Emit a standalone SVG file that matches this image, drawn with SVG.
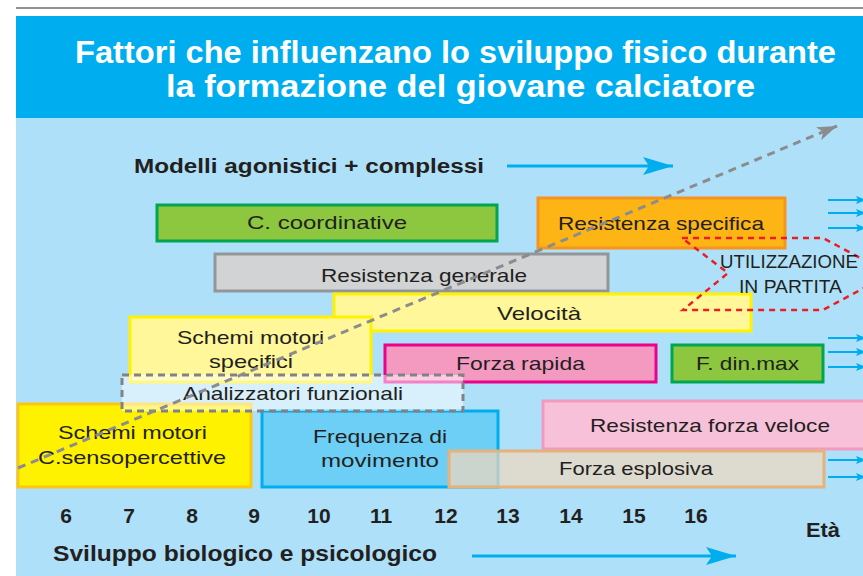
<svg xmlns="http://www.w3.org/2000/svg" width="863" height="576" viewBox="0 0 863 576">
<style>
text{font-family:"Liberation Sans",Arial,sans-serif;fill:#231F20}
.bx{font-size:19px}
.title{font-size:32px;font-weight:bold;fill:#FFFFFF}
.bold{font-weight:bold}
.num{font-size:21px;font-weight:bold;text-anchor:middle}
rect.n{stroke-width:3}
</style>
<defs>
<marker id="bigBlue" markerUnits="userSpaceOnUse" markerWidth="30" markerHeight="18" viewBox="0 0 30 18" refX="30" refY="9" orient="auto">
<path d="M0,0 L30,9 L0,18 L6,9 z" fill="#00AEEF"/>
</marker>
<marker id="smallBlue" markerUnits="userSpaceOnUse" markerWidth="10" markerHeight="8" viewBox="0 0 10 8" refX="10" refY="4" orient="auto">
<path d="M0,0 L10,4 L0,8 L2,4 z" fill="#00AEEF"/>
</marker>
<marker id="grayHead" markerUnits="userSpaceOnUse" markerWidth="20" markerHeight="14" viewBox="0 0 20 14" refX="20" refY="7" orient="auto">
<path d="M0,0 L20,7 L0,14 L5,7 z" fill="#8A8C8E"/>
</marker>
</defs>

<rect x="0" y="0" width="863" height="576" fill="#FFFFFF"/>
<line x1="16" y1="8" x2="863" y2="8" stroke="#6D6E71" stroke-width="1.5"/>
<rect x="16" y="16" width="847" height="102" fill="#00AEEF"/>
<rect x="16" y="118" width="847" height="458" fill="#AEE1F9"/>

<g id="title">
<text class="title" x="75" y="63" textLength="761" lengthAdjust="spacingAndGlyphs">Fattori che influenzano lo sviluppo fisico durante</text>
<text class="title" x="166" y="97" textLength="589" lengthAdjust="spacingAndGlyphs">la formazione del giovane calciatore</text>
</g>

<g id="modelli">
<text class="bold" x="134" y="173" font-size="20" textLength="350" lengthAdjust="spacingAndGlyphs">Modelli agonistici + complessi</text>
</g>

<g id="coordinative">
<rect class="n" x="157" y="205" width="340" height="36" fill="#8DC63F" stroke="#00A651"/>
<text class="bx" x="247" y="229" textLength="160" lengthAdjust="spacingAndGlyphs">C. coordinative</text>
</g>

<g id="resistenza-specifica">
<rect class="n" x="538" y="198" width="247" height="50" fill="#FDB515" stroke="#F7941D"/>
<text class="bx" x="558" y="230" textLength="206" lengthAdjust="spacingAndGlyphs">Resistenza specifica</text>
</g>

<g id="resistenza-generale">
<rect class="n" x="215" y="254" width="393" height="37" fill="#D1D3D4" stroke="#939598"/>
<text class="bx" x="321" y="282" textLength="206" lengthAdjust="spacingAndGlyphs">Resistenza generale</text>
</g>

<g id="velocita">
<rect class="n" x="334" y="294" width="417" height="37" fill="#FFF799" stroke="#FFF200"/>
<text class="bx" x="497" y="320" textLength="84" lengthAdjust="spacingAndGlyphs">Velocità</text>
</g>

<g id="schemi-specifici">
<rect class="n" x="130" y="317" width="241" height="65" fill="#FFF799" stroke="#FFF200"/>
<text class="bx" x="177" y="344" textLength="147" lengthAdjust="spacingAndGlyphs">Schemi motori</text>
<text class="bx" x="209" y="368" textLength="84" lengthAdjust="spacingAndGlyphs">specifici</text>
</g>

<g id="forza-rapida">
<rect class="n" x="385" y="345" width="271" height="37" fill="#F49AC1" stroke="#EC008C"/>
<text class="bx" x="456" y="370" textLength="129" lengthAdjust="spacingAndGlyphs">Forza rapida</text>
</g>

<g id="f-din-max">
<rect class="n" x="672" y="345" width="151" height="37" fill="#8DC63F" stroke="#00A651"/>
<text class="bx" x="696" y="370" textLength="103" lengthAdjust="spacingAndGlyphs">F. din.max</text>
</g>

<g id="schemi-sensopercettive">
<rect class="n" x="18" y="404" width="233" height="83" fill="#FFF200" stroke="#FDC70F"/>
<text class="bx" x="58" y="439" textLength="149" lengthAdjust="spacingAndGlyphs">Schemi motori</text>
<text class="bx" x="38" y="464" textLength="188" lengthAdjust="spacingAndGlyphs">C.sensopercettive</text>
</g>

<g id="frequenza">
<rect class="n" x="262" y="411" width="236" height="76" fill="#6DCFF6" stroke="#00AEEF"/>
<text class="bx" x="313" y="443" textLength="134" lengthAdjust="spacingAndGlyphs">Frequenza di</text>
<text class="bx" x="321" y="467" textLength="118" lengthAdjust="spacingAndGlyphs">movimento</text>
</g>

<g id="analizzatori">
<rect x="122" y="375" width="341" height="36" fill="#FFFFFF" fill-opacity="0.5" stroke="#808285" stroke-width="3" stroke-dasharray="7 5"/>
<text class="bx" x="183" y="400" textLength="220" lengthAdjust="spacingAndGlyphs">Analizzatori funzionali</text>
</g>

<g id="resistenza-forza-veloce">
<rect class="n" x="543" y="401" width="330" height="48" fill="#F8C1DA" stroke="#F49AC1"/>
<text class="bx" x="590" y="432" textLength="240" lengthAdjust="spacingAndGlyphs">Resistenza forza veloce</text>
</g>

<g id="forza-esplosiva">
<rect class="n" x="449" y="451" width="375" height="36" fill="#F0D7BE" fill-opacity="0.72" stroke="#E4B27A"/>
<text class="bx" x="559" y="475" textLength="154" lengthAdjust="spacingAndGlyphs">Forza esplosiva</text>
</g>

<g id="utilizzazione">
<path d="M682,238 L823,238 L890,274 L823,310 L683,310 L728,273 Z" fill="none" stroke="#ED1C24" stroke-width="2.5" stroke-dasharray="6 5"/>
<text class="bx" x="720" y="268" textLength="138" lengthAdjust="spacingAndGlyphs">UTILIZZAZIONE</text>
<text class="bx" x="739" y="293" textLength="103" lengthAdjust="spacingAndGlyphs">IN PARTITA</text>
</g>

<g id="axis">
<text class="num" x="66" y="523">6</text>
<text class="num" x="129" y="523">7</text>
<text class="num" x="192" y="523">8</text>
<text class="num" x="254" y="523">9</text>
<text class="num" x="319" y="523">10</text>
<text class="num" x="381" y="523">11</text>
<text class="num" x="446" y="523">12</text>
<text class="num" x="508" y="523">13</text>
<text class="num" x="571" y="523">14</text>
<text class="num" x="634" y="523">15</text>
<text class="num" x="696" y="523">16</text>
<text class="bold" x="806" y="537" font-size="21" textLength="34" lengthAdjust="spacingAndGlyphs">Età</text>
<text class="bold" x="53" y="561" font-size="22" textLength="384" lengthAdjust="spacingAndGlyphs">Sviluppo biologico e psicologico</text>
</g>

<g id="connectors">
<line x1="507" y1="166" x2="673" y2="166" stroke="#00AEEF" stroke-width="3" marker-end="url(#bigBlue)"/>
<line x1="472" y1="556" x2="736" y2="556" stroke="#00AEEF" stroke-width="3" marker-end="url(#bigBlue)"/>
<line x1="828" y1="200" x2="866" y2="200" stroke="#00AEEF" stroke-width="2" marker-end="url(#smallBlue)"/>
<line x1="828" y1="213" x2="866" y2="213" stroke="#00AEEF" stroke-width="2" marker-end="url(#smallBlue)"/>
<line x1="828" y1="228" x2="866" y2="228" stroke="#00AEEF" stroke-width="2" marker-end="url(#smallBlue)"/>
<line x1="828" y1="338" x2="866" y2="338" stroke="#00AEEF" stroke-width="2" marker-end="url(#smallBlue)"/>
<line x1="828" y1="352" x2="866" y2="352" stroke="#00AEEF" stroke-width="2" marker-end="url(#smallBlue)"/>
<line x1="828" y1="367" x2="866" y2="367" stroke="#00AEEF" stroke-width="2" marker-end="url(#smallBlue)"/>
<line x1="828" y1="460" x2="866" y2="460" stroke="#00AEEF" stroke-width="2" marker-end="url(#smallBlue)"/>
<line x1="828" y1="477" x2="866" y2="477" stroke="#00AEEF" stroke-width="2" marker-end="url(#smallBlue)"/>
<line x1="18" y1="468" x2="837" y2="126" stroke="#8A8C8E" stroke-width="3" stroke-dasharray="8 6" marker-end="url(#grayHead)"/>
</g>
</svg>
